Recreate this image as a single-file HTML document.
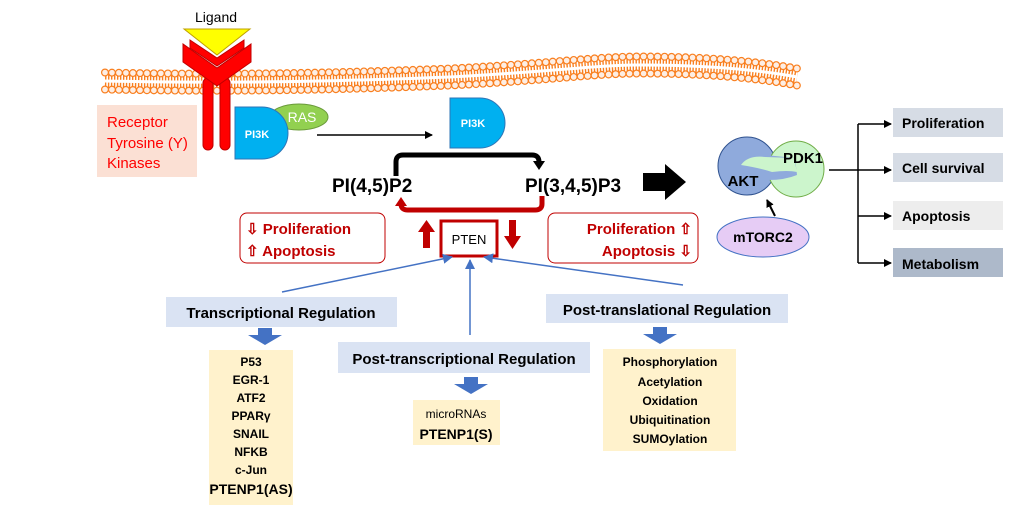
<!DOCTYPE html>
<html><head><meta charset="utf-8"><style>
body{margin:0;background:#fff}
svg text{font-family:"Liberation Sans",sans-serif}
.b{font-weight:bold}
</style></head><body>
<svg width="1021" height="513" viewBox="0 0 1021 513" xmlns="http://www.w3.org/2000/svg">
<defs>
<path id="mc" d="M105,81 C200,83 300,83 450,77 C550,72 595,65 640,65 C720,65 770,72 797,77"/>
<marker id="ah" markerWidth="8" markerHeight="8" refX="7" refY="4" orient="auto" markerUnits="userSpaceOnUse"><path d="M0,0 L8,4 L0,8z" fill="#000"/></marker>
<marker id="bh" markerWidth="10" markerHeight="10" refX="9" refY="5" orient="auto" markerUnits="userSpaceOnUse"><path d="M0,0 L10,5 L0,10z" fill="#4472c4"/></marker>
</defs>
<!-- membrane -->
<g fill="none">
<use href="#mc" stroke="#f97f1f" stroke-width="14" stroke-dasharray="1.4 1.6"/>
<use href="#mc" stroke="#fff" stroke-width="3"/>
<g transform="translate(0,-8.5)">
<use href="#mc" stroke="#f97f1f" stroke-width="8" stroke-linecap="round" stroke-dasharray="0 7"/>
<use href="#mc" stroke="#fdeee4" stroke-width="5.6" stroke-linecap="round" stroke-dasharray="0 7"/>
</g>
<g transform="translate(0,8.5)">
<use href="#mc" stroke="#f97f1f" stroke-width="8" stroke-linecap="round" stroke-dasharray="0 7"/>
<use href="#mc" stroke="#fdeee4" stroke-width="5.6" stroke-linecap="round" stroke-dasharray="0 7"/>
</g>
</g>
<!-- ligand/receptor -->
<text x="216" y="22" font-size="14" text-anchor="middle">Ligand</text>
<rect x="203" y="78" width="10" height="72" rx="5" fill="#f00" stroke="#c00000"/>
<rect x="220" y="78" width="10" height="72" rx="5" fill="#f00" stroke="#c00000"/>
<path d="M183,62 L183,44 L217,68 L251,44 L251,62 L217,86z" fill="#f00" stroke="#c00000"/>
<path d="M190,48 L190,40 L217,58 L244,40 L244,48 L217,66z" fill="#f00" stroke="#c00000"/>
<path d="M184,29 L250,29 L217,55z" fill="#ff0" stroke="#bfa000"/>
<rect x="97" y="105" width="100" height="72" fill="#fbe0d4"/>
<text x="107" y="127" font-size="15" fill="#f00">Receptor</text>
<text x="107" y="148" font-size="15" fill="#f00">Tyrosine (Y)</text>
<text x="107" y="168" font-size="15" fill="#f00">Kinases</text>
<ellipse cx="299" cy="117" rx="29" ry="13" fill="#92d050" stroke="#6a9a3a"/>
<path d="M235,107 L262,107 A26,26 0 0 1 262,159 L235,159z" fill="#00b0f0" stroke="#2e75b6"/>
<text x="302" y="122" font-size="14" fill="#fff" text-anchor="middle">RAS</text>
<text x="257" y="138" font-size="11" fill="#fff" class="b" text-anchor="middle">PI3K</text>
<line x1="317" y1="135" x2="432" y2="135" stroke="#000" stroke-width="1.5" marker-end="url(#ah)"/>
<path d="M450,98 L480,98 A25,25 0 0 1 480,148 L450,148z" fill="#00b0f0" stroke="#2e75b6"/>
<text x="473" y="127" font-size="11" fill="#fff" class="b" text-anchor="middle">PI3K</text>
<!-- cycle -->
<path d="M396,176 L396,162 Q396,155 403,155 L532,155 Q539,155 539,162 L539,163" fill="none" stroke="#000" stroke-width="5"/>
<path d="M533,161 L545,161 L539,170z" fill="#000"/>
<text x="332" y="192" font-size="19" class="b">PI(4,5)P2</text>
<text x="525" y="192" font-size="19" class="b">PI(3,4,5)P3</text>
<path d="M643,173 L665,173 L665,164 L686,182 L665,200 L665,191 L643,191z" fill="#000"/>
<path d="M542,196 L542,204 Q542,210 535,210 L408,210 Q401,210 401,204" fill="none" stroke="#c00000" stroke-width="5"/>
<path d="M395,206 L407,206 L401,197z" fill="#c00000"/>
<rect x="240" y="213" width="145" height="50" rx="7" fill="#fff" stroke="#c00000"/>
<text x="246" y="234" font-size="15" class="b" fill="#c00000">⇩ Proliferation</text>
<text x="246" y="256" font-size="15" class="b" fill="#c00000">⇧ Apoptosis</text>
<rect x="548" y="213" width="150" height="50" rx="7" fill="#fff" stroke="#c00000"/>
<text x="692" y="234" font-size="15" class="b" fill="#c00000" text-anchor="end">Proliferation ⇧</text>
<text x="692" y="256" font-size="15" class="b" fill="#c00000" text-anchor="end">Apoptosis ⇩</text>
<rect x="441" y="221" width="56" height="35" fill="#fff" stroke="#c00000" stroke-width="3"/>
<text x="469" y="244" font-size="13" text-anchor="middle">PTEN</text>
<path d="M423,248 L430,248 L430,232 L435,232 L426.5,220 L418,232 L423,232z" fill="#c00000"/>
<path d="M509,220 L516,220 L516,236 L521,236 L512.5,249 L504,236 L509,236z" fill="#c00000"/>
<!-- blue connectors -->
<line x1="282" y1="292" x2="452" y2="257" stroke="#4472c4" stroke-width="1.5" marker-end="url(#bh)"/>
<line x1="470" y1="335" x2="470" y2="260" stroke="#4472c4" stroke-width="1.5" marker-end="url(#bh)"/>
<line x1="683" y1="285" x2="484" y2="257" stroke="#4472c4" stroke-width="1.5" marker-end="url(#bh)"/>
<!-- regulation -->
<rect x="166" y="297" width="231" height="30" fill="#dae3f3"/>
<text x="281" y="318" font-size="15" class="b" text-anchor="middle">Transcriptional Regulation</text>
<path d="M258,328 L272,328 L272,335 L282,335 L265,345 L248,335 L258,335z" fill="#4472c4"/>
<rect x="209" y="350" width="84" height="155" fill="#fff2cc"/>
<g font-size="12" class="b" text-anchor="middle">
<text x="251" y="366">P53</text><text x="251" y="384">EGR-1</text><text x="251" y="402">ATF2</text><text x="251" y="420">PPARγ</text><text x="251" y="438">SNAIL</text><text x="251" y="456">NFKB</text><text x="251" y="474">c-Jun</text><text x="251" y="494" font-size="14">PTENP1(AS)</text>
</g>
<rect x="338" y="342" width="252" height="31" fill="#dae3f3"/>
<text x="464" y="364" font-size="15" class="b" text-anchor="middle">Post-transcriptional Regulation</text>
<path d="M464,377 L478,377 L478,384 L488,384 L471,394 L454,384 L464,384z" fill="#4472c4"/>
<rect x="413" y="400" width="87" height="45" fill="#fff2cc"/>
<text x="456" y="418" font-size="12" text-anchor="middle">microRNAs</text>
<text x="456" y="439" font-size="14" class="b" text-anchor="middle">PTENP1(S)</text>
<rect x="546" y="294" width="242" height="29" fill="#dae3f3"/>
<text x="667" y="315" font-size="15" class="b" text-anchor="middle">Post-translational Regulation</text>
<path d="M653,327 L667,327 L667,334 L677,334 L660,344 L643,334 L653,334z" fill="#4472c4"/>
<rect x="603" y="349" width="133" height="102" fill="#fff2cc"/>
<g font-size="12" class="b" text-anchor="middle">
<text x="670" y="366">Phosphorylation</text><text x="670" y="386">Acetylation</text><text x="670" y="405">Oxidation</text><text x="670" y="424">Ubiquitination</text><text x="670" y="443">SUMOylation</text>
</g>
<!-- AKT -->
<circle cx="747" cy="166" r="29" fill="#8faadc" stroke="#2f528f"/>
<circle cx="796" cy="169" r="28" fill="#ccf5cc" stroke="#70ad47"/>
<path d="M742,163 Q748,153 765,155 L795,158 L797,175 Q785,180 768,180 L745,180z" fill="#8faadc"/>
<path d="M741,165 Q748,155 765,157 L794,158 L797,172 Q788,170 772,172 Q760,168 741,165z" fill="#ccf5cc"/>
<text x="803" y="163" font-size="15" class="b" text-anchor="middle">PDK1</text>
<text x="743" y="186" font-size="15" class="b" text-anchor="middle">AKT</text>
<ellipse cx="763" cy="237" rx="46" ry="20" fill="#e6ccf5" stroke="#4472c4"/>
<text x="763" y="242" font-size="14" class="b" text-anchor="middle">mTORC2</text>
<line x1="775" y1="216" x2="767" y2="200" stroke="#000" stroke-width="2" marker-end="url(#ah)"/>
<!-- outputs -->
<line x1="829" y1="170" x2="858" y2="170" stroke="#000" stroke-width="1.5"/>
<line x1="858" y1="124" x2="858" y2="263" stroke="#000" stroke-width="1.5"/>
<g stroke="#000" stroke-width="1.5">
<line x1="858" y1="124" x2="891" y2="124" marker-end="url(#ah)"/>
<line x1="858" y1="170" x2="891" y2="170" marker-end="url(#ah)"/>
<line x1="858" y1="216" x2="891" y2="216" marker-end="url(#ah)"/>
<line x1="858" y1="263" x2="891" y2="263" marker-end="url(#ah)"/>
</g>
<rect x="893" y="108" width="110" height="29" fill="#d6dce5"/>
<rect x="893" y="153" width="110" height="29" fill="#d6dce5"/>
<rect x="893" y="201" width="110" height="29" fill="#ededed"/>
<rect x="893" y="248" width="110" height="29" fill="#adb9ca"/>
<g font-size="14" class="b">
<text x="902" y="128">Proliferation</text>
<text x="902" y="173">Cell survival</text>
<text x="902" y="221">Apoptosis</text>
<text x="902" y="269">Metabolism</text>
</g>
</svg>
</body></html>
